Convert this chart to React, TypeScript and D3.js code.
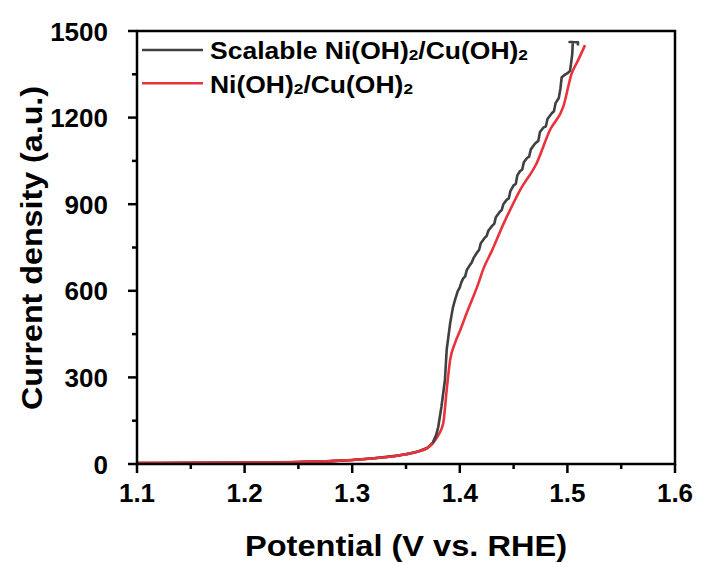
import React from "react";
import * as d3 from "d3";

const xTicks = [1.1, 1.2, 1.3, 1.4, 1.5, 1.6];
const yTicks = [0, 300, 600, 900, 1200, 1500];

const seriesNames = ["Scalable Ni(OH)", "Ni(OH)"];

const scalableV = [1.1, 1.15, 1.2, 1.25, 1.28, 1.3, 1.32, 1.34, 1.35, 1.36, 1.37, 1.375, 1.378, 1.38, 1.383, 1.3862, 1.3878, 1.391, 1.3935, 1.3955, 1.398, 1.4, 1.4015, 1.4032, 1.405, 1.4065, 1.4095, 1.411, 1.413, 1.4165, 1.418, 1.4195, 1.4234, 1.425, 1.4265, 1.43, 1.432, 1.4335, 1.4374, 1.439, 1.4405, 1.4435, 1.4455, 1.447, 1.45, 1.452, 1.4535, 1.456, 1.458, 1.4595, 1.4625, 1.4645, 1.466, 1.47, 1.473, 1.4745, 1.4776, 1.48, 1.4815, 1.4855, 1.4875, 1.489, 1.492, 1.4935, 1.4947, 1.4975, 1.5005, 1.5024, 1.5035, 1.5045, 1.505, 1.502, 1.5098, 1.5098];
const scalableJ = [3, 4, 5, 7, 10, 14, 20, 28, 34, 42, 56, 75, 100, 129, 200, 291, 395, 487, 540, 568, 598, 612, 630, 643, 650, 672, 690, 697, 715, 735, 742, 765, 785, 790, 808, 825, 832, 855, 875, 880, 900, 915, 920, 945, 965, 970, 1000, 1015, 1020, 1045, 1060, 1065, 1090, 1110, 1120, 1150, 1165, 1170, 1195, 1215, 1222, 1250, 1268, 1300, 1340, 1348, 1355, 1362, 1390, 1420, 1462, 1462, 1461, 1450];

const refV = [1.1, 1.15, 1.2, 1.25, 1.28, 1.3, 1.32, 1.34, 1.35, 1.36, 1.37, 1.375, 1.38, 1.3846, 1.3878, 1.391, 1.3955, 1.4, 1.4064, 1.4172, 1.4218, 1.43, 1.4404, 1.448, 1.456, 1.4714, 1.4838, 1.4962, 1.504, 1.5101, 1.5164];
const refJ = [3, 4, 5, 7, 10, 14, 20, 28, 34, 42, 56, 72, 100, 141, 256, 360, 419, 460, 523, 625, 675, 740, 830, 890, 949, 1042, 1157, 1238, 1353, 1400, 1451];

const colors = ["#404040", "#e8333c"];

export default function App() {
  const W = 701, H = 563;
  const m = { left: 137, right: 675, top: 31, bottom: 464 };
  const x = d3.scaleLinear().domain([1.1, 1.6]).range([m.left, m.right]);
  const y = d3.scaleLinear().domain([0, 1500]).range([m.bottom, m.top]);
  const line = d3.line<[number, number]>().x((d) => x(d[0])).y((d) => y(d[1]));
  const smooth = d3.line<[number, number]>().x((d) => x(d[0])).y((d) => y(d[1])).curve(d3.curveMonotoneX);
  const s1 = scalableV.map((v, i) => [v, scalableJ[i]] as [number, number]);
  const s2 = refV.map((v, i) => [v, refJ[i]] as [number, number]);
  const xMinor = d3.range(1.15, 1.6, 0.1);
  const yMinor = d3.range(150, 1500, 300);
  const font = "'Liberation Sans', Arial, sans-serif";
  const legendLens = [318, 203];
  return (
    <svg width={W} height={H} style={{ position: "absolute", left: 0, top: 0 }} fontFamily={font} fontWeight="bold">
      <rect width={W} height={H} fill="#fff" />
      <path d={smooth(s2) || ""} fill="none" stroke={colors[1]} strokeWidth={2.6} strokeLinejoin="round" />
      <path d={line(s1) || ""} fill="none" stroke={colors[0]} strokeWidth={2.6} strokeLinejoin="round" />
      <path d={smooth(s2.slice(0, 12)) || ""} fill="none" stroke={colors[1]} strokeWidth={2.6} strokeLinejoin="round" />
      <rect x={m.left} y={m.top} width={m.right - m.left} height={m.bottom - m.top} fill="none" stroke="#000" strokeWidth={2.5} />
      {xTicks.map((t) => (
        <g key={"xt" + t}>
          <line x1={x(t)} x2={x(t)} y1={m.bottom} y2={m.bottom + 9} stroke="#000" strokeWidth={2.5} />
          <text x={x(t)} y={m.bottom + 38} textAnchor="middle" fontSize={26}>{t.toFixed(1)}</text>
        </g>
      ))}
      {xMinor.map((t) => (
        <line key={"xm" + t} x1={x(t)} x2={x(t)} y1={m.bottom} y2={m.bottom + 5} stroke="#000" strokeWidth={2.5} />
      ))}
      {yTicks.map((t) => (
        <g key={"yt" + t}>
          <line x1={m.left} x2={m.left - 9} y1={y(t)} y2={y(t)} stroke="#000" strokeWidth={2.5} />
          <text x={m.left - 29} y={y(t) + 9.5} textAnchor="end" fontSize={26}>{t}</text>
        </g>
      ))}
      {yMinor.map((t) => (
        <line key={"ym" + t} x1={m.left} x2={m.left - 5} y1={y(t)} y2={y(t)} stroke="#000" strokeWidth={2.5} />
      ))}
      <text x={(m.left + m.right) / 2} y={556} textAnchor="middle" fontSize={29} textLength={322} lengthAdjust="spacingAndGlyphs">Potential (V vs. RHE)</text>
      <text transform={`translate(42,248) rotate(-90)`} textAnchor="middle" fontSize={29} textLength={324} lengthAdjust="spacingAndGlyphs">Current density (a.u.)</text>
      {seriesNames.map((n, i) => (
        <g key={n}>
          <line x1={142} x2={203} y1={50 + i * 33.3} y2={50 + i * 33.3} stroke={colors[i]} strokeWidth={2.5} />
          <text x={210} y={59.3 + i * 33.3} fontSize={23} textLength={legendLens[i]} lengthAdjust="spacingAndGlyphs">
            {n}
            <tspan fontSize={15} dy={1}>2</tspan>
            <tspan dy={-1}>/Cu(OH)</tspan>
            <tspan fontSize={15} dy={1}>2</tspan>
          </text>
        </g>
      ))}
    </svg>
  );
}
